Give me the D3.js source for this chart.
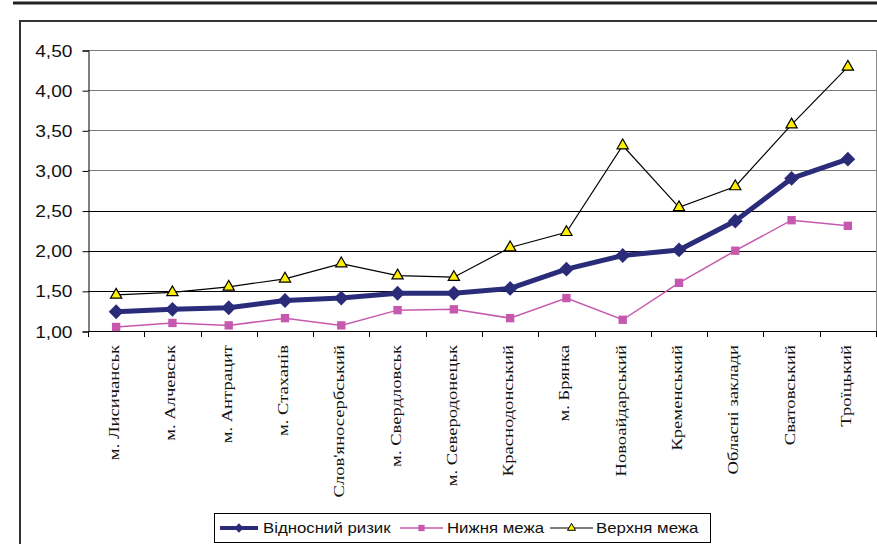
<!DOCTYPE html>
<html>
<head>
<meta charset="utf-8">
<script src="https://cdn.jsdelivr.net/npm/d3@7"></script>
<style>
  html, body { margin: 0; padding: 0; background: #fff; }
  svg { display: block; }
</style>
</head>
<body>
<svg id="chart" width="877" height="544"></svg>
<script>
// Districts / towns along the category axis
const categories = [
  "м. Лисичанськ", "м. Алчевськ", "м. Антрацит", "м. Стаханів",
  "Слов'яносербський", "м. Свердловськ", "м. Северодонецьк",
  "Краснодонський", "м. Брянка", "Новоайдарський", "Кременський",
  "Обласні заклади", "Сватовський", "Троїцький"
];

// Relative risk and its confidence bounds
const relativeRisk = [1.24, 1.27, 1.29, 1.38, 1.41, 1.47, 1.47, 1.53, 1.77, 1.94, 2.01, 2.37, 2.90, 3.14];
const lowerBound   = [1.05, 1.10, 1.07, 1.16, 1.07, 1.26, 1.27, 1.16, 1.41, 1.14, 1.60, 2.00, 2.38, 2.31];
const upperBound   = [1.45, 1.48, 1.55, 1.65, 1.84, 1.69, 1.67, 2.04, 2.23, 3.31, 2.54, 2.80, 3.57, 4.29];

const yTicks = [1.00, 1.50, 2.00, 2.50, 3.00, 3.50, 4.00, 4.50];
const seriesNames = ["Відносний ризик", "Нижня межа", "Верхня межа"];

const svg = d3.select("#chart");
const sansFont = "'Liberation Sans', Arial, sans-serif";
const serifFont = "'Liberation Serif', 'Times New Roman', serif";
const stretch = 1.2; // widening of text along its baseline

const plot = { left: 88, right: 876, top: 50, bottom: 331 };

const x = d3.scaleBand().domain(categories).range([plot.left, plot.right]).padding(0);
const y = d3.scaleLinear().domain([1, 4.5]).range([plot.bottom, plot.top]);
const cx = c => x(c) + x.bandwidth() / 2;

// Page rules and outer frame
svg.append("line").attr("x1", 13).attr("x2", 877).attr("y1", 3).attr("y2", 3)
  .attr("stroke", "#222").attr("stroke-width", 3);
svg.append("line").attr("x1", 20).attr("x2", 877).attr("y1", 21).attr("y2", 21)
  .attr("stroke", "#333").attr("stroke-width", 2);
svg.append("line").attr("x1", 20).attr("x2", 20).attr("y1", 20).attr("y2", 544)
  .attr("stroke", "#333").attr("stroke-width", 2);

// Horizontal gridlines
svg.append("g").selectAll("line").data(yTicks).join("line")
  .attr("x1", plot.left).attr("x2", plot.right)
  .attr("y1", d => Math.round(y(d)) + 0.5).attr("y2", d => Math.round(y(d)) + 0.5)
  .attr("stroke", d => d > 2.75 ? "#7a7a7a" : "#000").attr("stroke-width", 1);

// Right border of plot area
svg.append("line").attr("x1", plot.right + 0.5).attr("x2", plot.right + 0.5)
  .attr("y1", plot.top).attr("y2", plot.bottom)
  .attr("stroke", "#8a8a8a").attr("stroke-width", 1);

// Y axis
const yAxis = svg.append("g").attr("transform", `translate(${plot.left + 0.5},0.5)`)
  .call(d3.axisLeft(y).tickValues(yTicks).tickSize(6).tickPadding(4)
    .tickFormat(d => d.toFixed(2).replace(".", ",")));
yAxis.select(".domain").attr("stroke", "#000");
yAxis.selectAll(".tick line").attr("stroke", "#000");
yAxis.selectAll(".tick text")
  .attr("font-family", sansFont).attr("font-size", 16).attr("fill", "#111")
  .attr("x", null).attr("dy", "0.35em").attr("text-anchor", "end")
  .attr("transform", `translate(-16,0) scale(${stretch},1)`);
yAxis.selectAll(".tick line").attr("x2", -6);

// X axis baseline and boundary ticks
svg.append("line").attr("x1", plot.left).attr("x2", plot.right + 1)
  .attr("y1", plot.bottom + 0.5).attr("y2", plot.bottom + 0.5).attr("stroke", "#000");
const boundaries = categories.map(c => x(c)).concat([plot.right]);
svg.append("g").selectAll("line").data(boundaries).join("line")
  .attr("x1", d => Math.round(d) + 0.5).attr("x2", d => Math.round(d) + 0.5)
  .attr("y1", plot.bottom).attr("y2", plot.bottom + 6).attr("stroke", "#000");

// Rotated category labels
svg.append("g").selectAll("text").data(categories).join("text")
  .attr("transform", c => `translate(${cx(c) + 3},${plot.bottom + 14}) rotate(-90) scale(${stretch},1)`)
  .attr("text-anchor", "end")
  .attr("font-family", serifFont).attr("font-size", 15.5).attr("fill", "#111")
  .text(c => c);

// Series lines and markers
const line = d3.line().x((d, i) => cx(categories[i])).y(d => y(d));

svg.append("path").datum(upperBound).attr("d", line)
  .attr("fill", "none").attr("stroke", "#000").attr("stroke-width", 1.2);
svg.append("path").datum(lowerBound).attr("d", line)
  .attr("fill", "none").attr("stroke", "#c659ad").attr("stroke-width", 1.5);
svg.append("path").datum(relativeRisk).attr("d", line)
  .attr("fill", "none").attr("stroke", "#2a2c7a").attr("stroke-width", 5)
  .attr("stroke-linejoin", "round");

const diamond = d3.symbol().type(d3.symbolDiamond2).size(140)();
const square = d3.symbol().type(d3.symbolSquare).size(70)();
const triangle = d3.symbol().type(d3.symbolTriangle).size(55)();

svg.append("g").selectAll("path").data(lowerBound).join("path")
  .attr("d", square)
  .attr("transform", (d, i) => `translate(${cx(categories[i])},${y(d)})`)
  .attr("fill", "#c659ad");
svg.append("g").selectAll("path").data(relativeRisk).join("path")
  .attr("d", diamond)
  .attr("transform", (d, i) => `translate(${cx(categories[i])},${y(d)})`)
  .attr("fill", "#2a2c7a");
svg.append("g").selectAll("path").data(upperBound).join("path")
  .attr("d", triangle)
  .attr("transform", (d, i) => `translate(${cx(categories[i])},${y(d)})`)
  .attr("fill", "#ffee00").attr("stroke", "#000").attr("stroke-width", 1.2);

// Legend
const legend = svg.append("g");
legend.append("rect").attr("x", 214.5).attr("y", 513.5).attr("width", 496).attr("height", 29)
  .attr("fill", "#fff").attr("stroke", "#000");
const legendItems = [
  { name: seriesNames[0], x0: 220, x1: 258, tx: 263, color: "#2a2c7a", width: 4, marker: d3.symbol().type(d3.symbolDiamond2).size(55)(), fill: "#2a2c7a", stroke: "none" },
  { name: seriesNames[1], x0: 400, x1: 443, tx: 447, color: "#c659ad", width: 1.5, marker: d3.symbol().type(d3.symbolSquare).size(40)(), fill: "#c659ad", stroke: "none" },
  { name: seriesNames[2], x0: 550, x1: 593, tx: 596, color: "#000", width: 1.2, marker: d3.symbol().type(d3.symbolTriangle).size(28)(), fill: "#ffee00", stroke: "#000" }
];
const ly = 528;
legendItems.forEach(it => {
  legend.append("line").attr("x1", it.x0).attr("x2", it.x1).attr("y1", ly).attr("y2", ly)
    .attr("stroke", it.color).attr("stroke-width", it.width);
  legend.append("path").attr("d", it.marker)
    .attr("transform", `translate(${(it.x0 + it.x1) / 2},${ly})`)
    .attr("fill", it.fill).attr("stroke", it.stroke).attr("stroke-width", 1);
  legend.append("text")
    .attr("transform", `translate(${it.tx},${ly + 5}) scale(${stretch},1)`)
    .attr("font-family", sansFont).attr("font-size", 14).attr("fill", "#111")
    .text(it.name);
});
</script>
</body>
</html>
